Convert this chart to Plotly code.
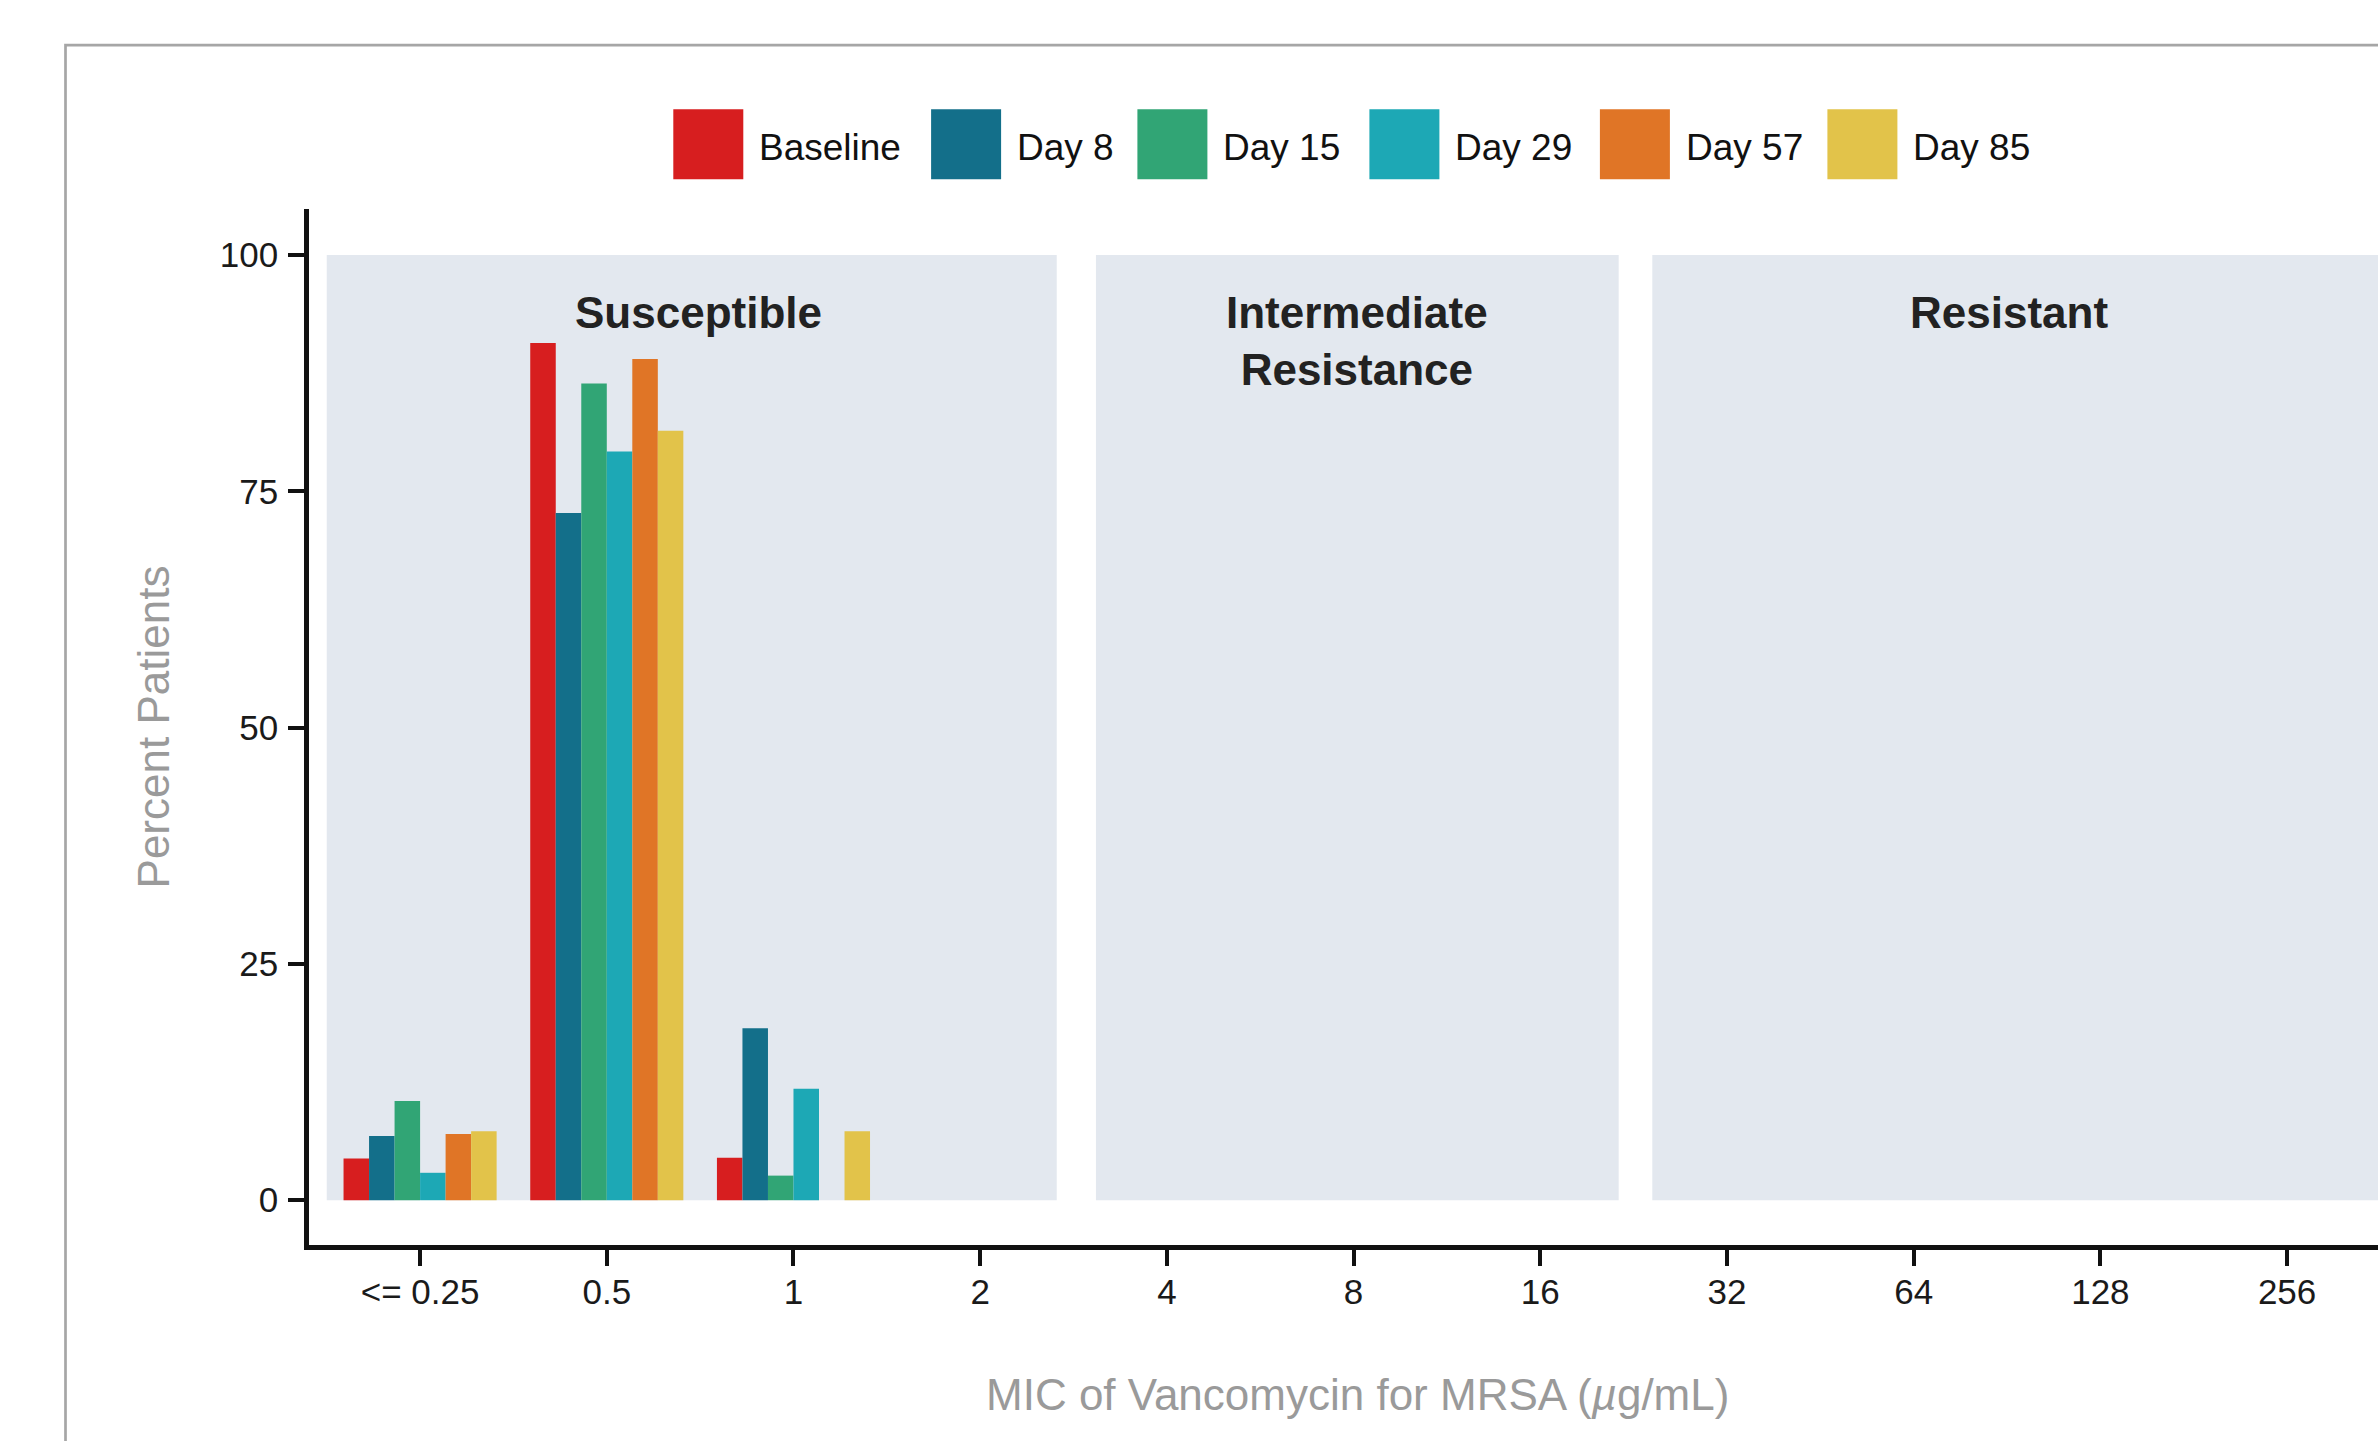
import plotly.graph_objects as go

# MIC categories (µg/mL) and percentage of patients per visit
mic_labels = ["<= 0.25", "0.5", "1", "2", "4", "8", "16", "32", "64", "128", "256"]

series_names = ["Baseline", "Day 8", "Day 15", "Day 29", "Day 57", "Day 85"]

baseline = [4.4, 90.7, 4.5, 0, 0, 0, 0, 0, 0, 0, 0]
day8 = [6.8, 72.7, 18.2, 0, 0, 0, 0, 0, 0, 0, 0]
day15 = [10.5, 86.4, 2.6, 0, 0, 0, 0, 0, 0, 0, 0]
day29 = [2.9, 79.2, 11.8, 0, 0, 0, 0, 0, 0, 0, 0]
day57 = [7.0, 89.0, 0, 0, 0, 0, 0, 0, 0, 0, 0]
day85 = [7.3, 81.4, 7.3, 0, 0, 0, 0, 0, 0, 0, 0]

series_values = [baseline, day8, day15, day29, day57, day85]
series_colors = ["#D71E1F", "#136F8A", "#31A575", "#1DA8B5", "#E07526", "#E2C34A"]

# Susceptibility bands: label, start, end (category index units)
band_labels = ["Susceptible", "Intermediate<br>Resistance", "Resistant"]
band_x0 = [-0.5, 3.62, 6.6]
band_x1 = [3.41, 6.42, 11.0]
band_label_x = [1.49, 5.02, 8.51]

FONT = "Liberation Sans, Arial, Helvetica, sans-serif"
W, H = 2378, 1441
ML, MT, MB, MR = 309, 209, 195.5, 0
PW, PH = W - ML - MR, H - MT - MB


def px_x(px):
    return (px - ML) / PW


def px_y(py):
    return (H - MB - py) / PH


fig = go.Figure()
for name, vals, col in zip(series_names, series_values, series_colors):
    fig.add_trace(go.Bar(
        x=mic_labels, y=vals, name=name,
        marker=dict(color=col, line=dict(width=0)),
        showlegend=False,
    ))

shapes = []
for x0, x1 in zip(band_x0, band_x1):
    shapes.append(dict(type="rect", xref="x", yref="y", x0=x0, x1=x1, y0=0, y1=100,
                       fillcolor="#E3E8EF", line=dict(width=0), layer="below"))

# Outer frame around the figure body
shapes.append(dict(type="rect", xref="paper", yref="paper",
                   x0=px_x(65.5), x1=1.2, y0=px_y(45), y1=-0.6,
                   line=dict(color="#A6A6A6", width=2.7), fillcolor="rgba(0,0,0,0)",
                   layer="below"))

annotations = []
for lab, lx in zip(band_labels, band_label_x):
    annotations.append(dict(x=lx, y=96.7, xref="x", yref="y", text=lab, showarrow=False,
                            xanchor="center", yanchor="top",
                            font=dict(family=FONT, size=44, color="#222222", weight="bold")))

# Legend keys drawn as large swatches with labels
legend_left_px = [673.3, 931.1, 1137.4, 1369.4, 1599.9, 1827.4]
sw = 70
for name, col, lx in zip(series_names, series_colors, legend_left_px):
    shapes.append(dict(type="rect", xref="paper", yref="paper",
                       x0=px_x(lx), x1=px_x(lx + sw), y0=px_y(109.3), y1=px_y(179.3),
                       fillcolor=col, line=dict(width=0)))
    annotations.append(dict(x=px_x(lx + sw + 14), y=px_y(147.5), xref="paper", yref="paper",
                            text=name, showarrow=False, xanchor="left", yanchor="middle",
                            font=dict(family=FONT, size=37, color="#111111")))

# x-axis title, centred under the category range
annotations.append(dict(x=px_x(1357), y=px_y(1395), xref="paper", yref="paper",
                        text="MIC of Vancomycin for MRSA (<i>µ</i>g/mL)", showarrow=False,
                        xanchor="center", yanchor="middle",
                        font=dict(family=FONT, size=44, color="#9A9A9A")))

fig.update_layout(
    width=W, height=H,
    margin=dict(l=ML, r=MR, t=MT, b=MB, pad=0),
    paper_bgcolor="white", plot_bgcolor="white",
    barmode="group", bargap=0.18, bargroupgap=0,
    shapes=shapes, annotations=annotations,
    font=dict(family=FONT, color="#1A1A1A"),
    xaxis=dict(
        type="category", categoryorder="array", categoryarray=mic_labels,
        range=[-0.595, 10.487],
        showline=True, linecolor="#111111", linewidth=4.5,
        ticks="outside", ticklen=16, tickwidth=4, tickcolor="#111111",
        ticklabelstandoff=-4,
        tickfont=dict(family=FONT, size=35, color="#1A1A1A"),
        showgrid=False, zeroline=False,
    ),
    yaxis=dict(
        range=[-4.74, 104.87], tickvals=[0, 25, 50, 75, 100],
        showline=True, linecolor="#111111", linewidth=4.5,
        ticks="outside", ticklen=16, tickwidth=4, tickcolor="#111111",
        ticklabelstandoff=3,
        tickfont=dict(family=FONT, size=35, color="#1A1A1A"),
        showgrid=False, zeroline=False,
        title=dict(text="Percent Patients", standoff=38,
                   font=dict(family=FONT, size=44, color="#9A9A9A")),
    ),
)

fig.write_html("out.html")
